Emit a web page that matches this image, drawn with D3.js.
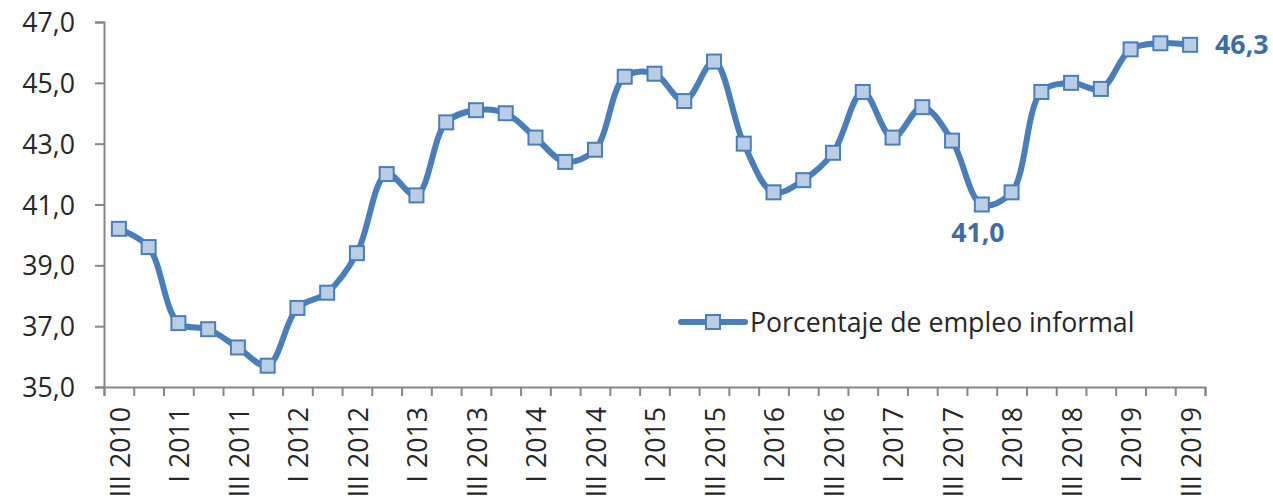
<!DOCTYPE html>
<html>
<head>
<meta charset="utf-8">
<script src="https://cdn.jsdelivr.net/npm/d3@7"></script>
<style>
  body { margin: 0; background: #fff; }
  text { font-family: "Open Sans", sans-serif; }
</style>
</head>
<body>
<script>
// quarters shown on the x axis (every other one gets a label)
var quarters = [
  "III 2010", "IV 2010",
  "I 2011", "II 2011", "III 2011", "IV 2011",
  "I 2012", "II 2012", "III 2012", "IV 2012",
  "I 2013", "II 2013", "III 2013", "IV 2013",
  "I 2014", "II 2014", "III 2014", "IV 2014",
  "I 2015", "II 2015", "III 2015", "IV 2015",
  "I 2016", "II 2016", "III 2016", "IV 2016",
  "I 2017", "II 2017", "III 2017", "IV 2017",
  "I 2018", "II 2018", "III 2018", "IV 2018",
  "I 2019", "II 2019", "III 2019"
];

// Porcentaje de empleo informal
var informal = [
  40.2, 39.6,
  37.1, 36.9, 36.3, 35.7,
  37.6, 38.1, 39.4, 42.0,
  41.3, 43.7, 44.1, 44.0,
  43.2, 42.4, 42.8, 45.2,
  45.3, 44.4, 45.7, 43.0,
  41.4, 41.8, 42.7, 44.7,
  43.2, 44.2, 43.1, 41.0,
  41.4, 44.7, 45.0, 44.8,
  46.1, 46.3, 46.25
];

var yTicks = [35, 37, 39, 41, 43, 45, 47];
var labelled = [29, 36]; // points with a data label
var seriesName = "Porcentaje de empleo informal";

var W = 1273, H = 496;
var margin = { top: 22, right: 68, bottom: 109, left: 104 };

var lineColor = "#4a7ebb",
    markFill = "#b9cde5",
    labelColor = "#3d6da6",
    axisColor = "#868686",
    textColor = "#262626",
    fontSize = "26.7px";

var es = d3.formatLocale({ decimal: ",", thousands: ".", grouping: [3], currency: ["", ""] });
var fmt = es.format(".1f");

var svg = d3.select("body").append("svg")
    .attr("width", W)
    .attr("height", H);

var x = d3.scaleBand()
    .domain(quarters)
    .range([margin.left, W - margin.right])
    .paddingInner(0)
    .paddingOuter(0);

var y = d3.scaleLinear()
    .domain([35, 47])
    .range([H - margin.bottom, margin.top]);

var cx = function (d, i) { return x(quarters[i]) + x.bandwidth() / 2; };

// y axis
var yAxis = svg.append("g")
    .attr("transform", "translate(" + margin.left + ",0)")
    .call(d3.axisLeft(y).tickValues(yTicks).tickFormat(fmt).tickSize(9).tickPadding(20));
yAxis.select(".domain").attr("stroke", axisColor).attr("stroke-width", 2);
yAxis.selectAll(".tick line").attr("stroke", axisColor).attr("stroke-width", 2);
yAxis.selectAll(".tick text")
    .attr("fill", textColor)
    .style("font-size", fontSize)
    .attr("dy", "0.36em");

// x axis: ticks between categories
var xb = d3.scaleLinear().domain([0, quarters.length]).range(x.range());
var xTicks = svg.append("g")
    .attr("transform", "translate(0," + y(35) + ")")
    .call(d3.axisBottom(xb).tickValues(d3.range(quarters.length + 1)).tickFormat("").tickSize(9));
xTicks.select(".domain").attr("stroke", axisColor).attr("stroke-width", 2);
xTicks.selectAll(".tick line").attr("stroke", axisColor).attr("stroke-width", 2);

var xAxis = svg.append("g")
    .attr("transform", "translate(0," + y(35) + ")")
    .call(d3.axisBottom(x).tickSize(0).tickFormat(function (d, i) { return i % 2 ? "" : d; }));
xAxis.select(".domain").remove();
xAxis.selectAll(".tick text")
    .attr("fill", textColor)
    .style("font-size", fontSize)
    .attr("text-anchor", "end")
    .attr("transform", "rotate(-90)")
    .attr("x", -20)
    .attr("y", 1)
    .attr("dy", "0.36em");

// the series
var line = d3.line()
    .x(cx)
    .y(function (d) { return y(d); })
    .curve(d3.curveCatmullRom.alpha(0.5));

svg.append("path")
    .datum(informal)
    .attr("fill", "none")
    .attr("stroke", lineColor)
    .attr("stroke-width", 6)
    .attr("stroke-linejoin", "round")
    .attr("d", line);

var ms = 14;
svg.selectAll("rect.mark")
    .data(informal)
    .enter().append("rect")
    .attr("class", "mark")
    .attr("x", function (d, i) { return cx(d, i) - ms / 2; })
    .attr("y", function (d) { return y(d) - ms / 2; })
    .attr("width", ms)
    .attr("height", ms)
    .attr("fill", markFill)
    .attr("stroke", lineColor)
    .attr("stroke-width", 2);

// data labels
labelled.forEach(function (i) {
    var last = i === informal.length - 1;
    svg.append("text")
        .attr("x", last ? cx(informal[i], i) + 25 : cx(informal[i], i) - 4)
        .attr("y", last ? y(informal[i]) : y(informal[i]) + 28)
        .attr("dy", "0.36em")
        .attr("text-anchor", last ? "start" : "middle")
        .attr("fill", labelColor)
        .style("font-size", fontSize)
        .style("font-weight", "bold")
        .text(fmt(informal[i]));
});

// legend
var lg = svg.append("g").attr("transform", "translate(681,322)");
lg.append("line")
    .attr("x1", 0).attr("x2", 64)
    .attr("stroke", lineColor)
    .attr("stroke-width", 6)
    .attr("stroke-linecap", "round");
lg.append("rect")
    .attr("x", 32 - ms / 2).attr("y", -ms / 2)
    .attr("width", ms).attr("height", ms)
    .attr("fill", markFill)
    .attr("stroke", lineColor)
    .attr("stroke-width", 2);
lg.append("text")
    .attr("x", 69)
    .attr("dy", "0.36em")
    .attr("fill", textColor)
    .style("font-size", fontSize)
    .text(seriesName);
</script>
</body>
</html>
